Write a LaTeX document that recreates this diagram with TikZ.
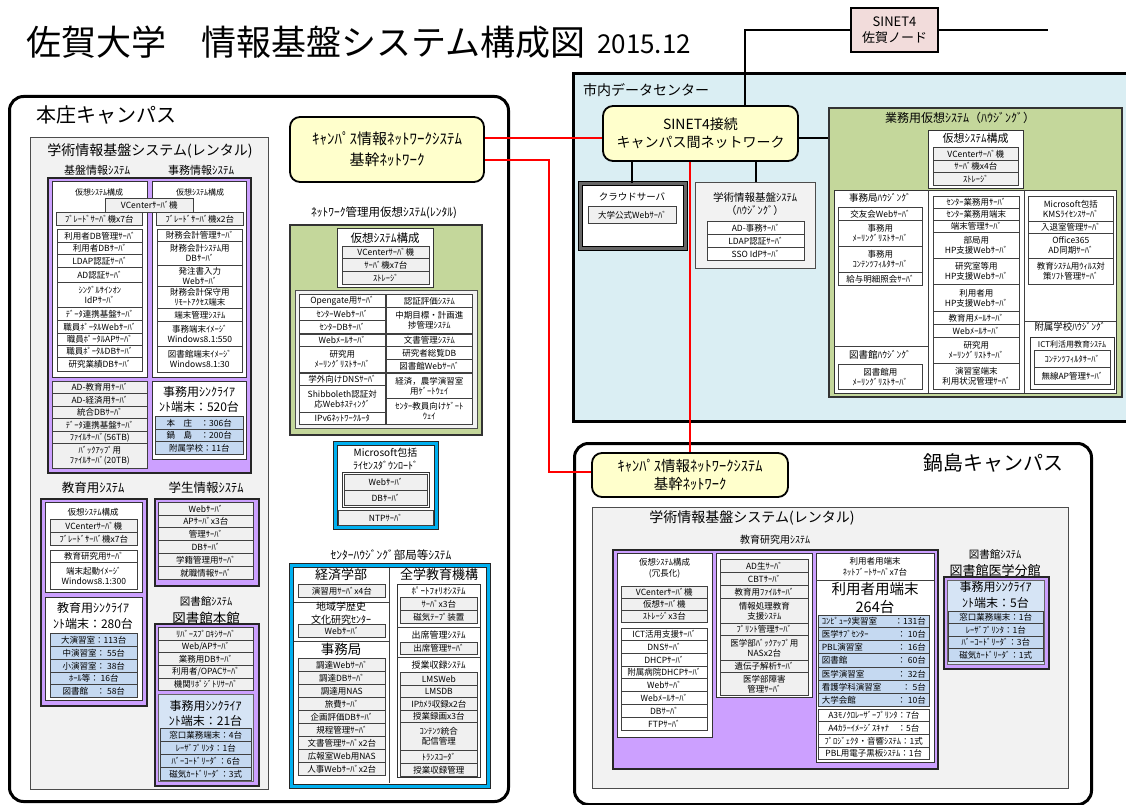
\documentclass[tikz,border=0pt]{standalone}
\usepackage{fontspec}
\setmainfont{Noto Sans CJK JP}
\usetikzlibrary{calc}
\definecolor{cPurp}{RGB}{204,160,255}
\definecolor{cLb}{RGB}{197,217,241}
\definecolor{cLbb}{RGB}{214,228,245}
\definecolor{cGrn}{RGB}{196,215,155}
\definecolor{cDc}{RGB}{218,238,243}
\definecolor{cYel}{RGB}{255,255,204}
\definecolor{cPnk}{RGB}{242,220,219}
\definecolor{cPg}{RGB}{242,242,242}
\definecolor{cCy}{RGB}{0,176,240}
\definecolor{cGf}{RGB}{240,240,240}
\newcommand\fsz[2]{\fontsize{#1}{#2}\selectfont}
\newcommand\fsl[1]{\fontsize{#1}{#1}\selectfont\baselineskip=1.3em\relax}
\newcounter{nn}
\newcommand\B[6][ib]{\stepcounter{nn}\node[#1,minimum width={#4pt-#2pt},minimum height={#5pt-#3pt},anchor=north west] (n\thenn) at (#2,#3) {#6};}
\newcommand\NB[7][ib]{\node[#1,minimum width={#5pt-#3pt},minimum height={#6pt-#4pt},anchor=north west] (#2) at (#3,#4) {#7};}
\newcommand\Stk[4][ib]{\foreach \ya/\yb/\tx in {#4}{\B[#1]{#2}{\ya}{#3}{\yb}{\tx}}}
\newcommand\LRx[2]{\makebox[104pt]{#1\hfill#2}}
\newcommand\Lb[4][]{\stepcounter{nn}\node[lbl,font=\fsl{#2},#1] (t\thenn) at #3 {#4};}
\tikzset{
 ib/.style={draw=black!75,line width=0.6pt,fill=white,inner sep=0pt,align=center,font=\fsz{8.5}{10}},
 gb/.style={ib,fill=cGf},
 bb/.style={ib,fill=cLb},
 wb/.style={draw=black!80,line width=0.8pt,fill=white,inner sep=0pt},
 purpb/.style={draw=black!85,line width=1.6pt,fill=cPurp,inner sep=0pt},
 lbbox/.style={draw=black!60,line width=0.6pt,fill=cLbb,inner sep=0pt},
 campus/.style={draw=black,line width=3pt,rounded corners=14pt,fill=white,inner sep=0pt},
 grayp/.style={draw=black!70,line width=1.2pt,fill=cPg,inner sep=0pt},
 grnb/.style={draw=black!80,line width=2.2pt,fill=cGrn,inner sep=0pt},
 cyanb/.style={draw=black!85,line width=0.8pt,double=cCy,double distance=3pt,fill=white,inner sep=0pt},
 cloudb/.style={draw=black,line width=0.8pt,double=black!60,double distance=3pt,fill=white,inner sep=0pt},
 dcbox/.style={draw=black,line width=3pt,fill=cDc,inner sep=0pt},
 ynode/.style={draw=black,line width=1.8pt,rounded corners=10pt,fill=cYel,inner sep=0pt,align=center},
 lbl/.style={inner sep=0pt,align=center},
 bl/.style={draw=black,line width=2pt},
 rd/.style={draw=red,line width=2pt},
 thinl/.style={draw=black!75,line width=0.8pt},
}
\begin{document}
\begin{tikzpicture}[x=1pt,y=-1pt]
\path[use as bounding box] (0,0) rectangle (1126,805);
\clip (0,0) rectangle (1126,805);
% ---------- title ----------
\node[lbl,anchor=west,font=\fsz{35}{40}] (title) at (26,42) {佐賀大学　情報基盤システム構成図};
\node[lbl,anchor=west,font=\fsz{26}{30}] (date) at (597,44) {2015.12};
\node[draw=black,line width=2.5pt,fill=cPnk,minimum width=87pt,minimum height=44pt,align=center,inner sep=0pt,font=\fsz{13}{16}] (sinet) at (894.5,30) {SINET4\\佐賀ノード};
% ---------- data center ----------
\NB[dcbox]{dc}{572}{72}{1140}{420}{}
\Lb[anchor=west]{14}{(583,90)}{市内データセンター}
\node[ynode,minimum width=195pt,minimum height=55pt,font=\fsz{14}{18}] (dcnet) at (700.5,133.5) {SINET4接続\\キャンパス間ネットワーク};
\NB[cloudb]{cloud}{580}{183}{685}{248}{}
\Lb{9.5}{(632,197)}{クラウドサーバ}
\B[gb]{588}{206}{676}{223}{大学公式Webｻｰﾊﾞ}
\NB[grayp]{hous}{695}{182}{815}{268}{}
\Lb{10.5}{(755,204)}{学術情報基盤ｼｽﾃﾑ\\（ﾊｳｼﾞﾝｸﾞ）}
\Stk{707}{804}{221/234/{AD-事務ｻｰﾊﾞ},234/247/{LDAP認証ｻｰﾊﾞ},247/260/{SSO IdPｻｰﾊﾞ}}
\NB[grnb]{gyomu}{828}{107}{1121}{396}{}
\Lb{12}{(960,118)}{業務用仮想ｼｽﾃﾑ（ﾊｳｼﾞﾝｸﾞ）}
\B[wb]{928}{130}{1023}{188}{}
\Lb{11}{(975.5,138)}{仮想ｼｽﾃﾑ構成}
\Stk[gb]{933}{1018}{147/160/{VCenterｻｰﾊﾞ機},160/172/{ｻｰﾊﾞ機x4台},172/185/{ｽﾄﾚｰｼﾞ}}
\B[wb]{834}{190}{1116}{393}{}
\draw[thinl] (928,190) -- (928,393) (1024,190) -- (1024,393) (834,346) -- (928,346) (1024,321) -- (1116,321);
\Lb{9.5}{(880,198)}{事務局ﾊｳｼﾞﾝｸﾞ}
\Stk{838}{922}{207/220/{交友会Webｻｰﾊﾞ},220/246/{事務用\\ﾒｰﾘﾝｸﾞﾘｽﾄｻｰﾊﾞ},246/272/{事務用\\ｺﾝﾃﾝﾂﾌｨﾙﾀｻｰﾊﾞ},272/285/{給与明細照会ｻｰﾊﾞ}}
\Lb{9.5}{(880,355)}{図書館ﾊｳｼﾞﾝｸﾞ}
\B{838}{364}{922}{389}{図書館用\\ﾒｰﾘﾝｸﾞﾘｽﾄｻｰﾊﾞ}
\Stk{933}{1019}{196/208/{ｾﾝﾀｰ業務用ｻｰﾊﾞ},208/220/{ｾﾝﾀｰ業務用端末},220/232/{端末管理ｻｰﾊﾞ},232/258/{部局用\\HP支援Webｻｰﾊﾞ},258/284/{研究室等用\\HP支援Webｻｰﾊﾞ},284/311/{利用者用\\HP支援Webｻｰﾊﾞ},311/324/{教育用ﾒｰﾙｻｰﾊﾞ},324/337/{Webﾒｰﾙｻｰﾊﾞ},337/363/{研究用\\ﾒｰﾘﾝｸﾞﾘｽﾄｻｰﾊﾞ},363/389/{演習室端末\\利用状況管理ｻｰﾊﾞ}}
\Stk{1028}{1113}{196/221/{Microsoft包括\\KMSﾗｲｾﾝｽｻｰﾊﾞ},221/233/{入退室管理ｻｰﾊﾞ},233/258/{Office365\\AD同期ｻｰﾊﾞ},258/284/{教育ｼｽﾃﾑ用ｳｨﾙｽ対\\策ｿﾌﾄ管理ｻｰﾊﾞ}}
\Lb{9.5}{(1070,327)}{附属学校ﾊｳｼﾞﾝｸﾞ}
\B[wb]{1030}{337}{1114}{389}{}
\Lb{8}{(1072,344)}{ICT利活用教育ｼｽﾃﾑ}
\Stk{1034}{1110}{350/367/{ｺﾝﾃﾝﾂﾌｨﾙﾀｻｰﾊﾞ},367/384/{無線AP管理ｻｰﾊﾞ}}
% ---------- Honjo campus ----------
\NB[campus]{honjo}{8}{95}{507}{800}{}
\Lb[anchor=west]{20}{(36,115)}{本庄キャンパス}
\B[grayp]{30}{137}{268}{789}{}
\Lb{14}{(150,151)}{学術情報基盤システム(レンタル)}
\Lb{11}{(97,170)}{基盤情報ｼｽﾃﾑ}
\Lb{11}{(201,170)}{事務情報ｼｽﾃﾑ}
\B[purpb]{47}{177}{250}{472}{}
\B[wb]{52}{181}{147}{377}{}
\B[wb]{152}{181}{246}{377}{}
\Lb{8}{(99,192)}{仮想ｼｽﾃﾑ構成}
\Lb{8}{(200,192)}{仮想ｼｽﾃﾑ構成}
\B[gb]{105}{198}{193}{212}{VCenterｻｰﾊﾞ機}
\B[gb]{56}{212}{142}{225}{ﾌﾞﾚｰﾄﾞｻｰﾊﾞ機x7台}
\B[gb]{156}{212}{243}{225}{ﾌﾞﾚｰﾄﾞｻｰﾊﾞ機x2台}
\Stk{57}{142}{229/242/{利用者DB管理ｻｰﾊﾞ},242/254/{利用者DBｻｰﾊﾞ},254/267/{LDAP認証ｻｰﾊﾞ},267/282/{AD認証ｻｰﾊﾞ},282/307/{ｼﾝｸﾞﾙｻｲﾝｵﾝ\\IdPｻｰﾊﾞ},307/320/{ﾃﾞｰﾀ連携基盤ｻｰﾊﾞ},320/333/{職員ﾎﾟｰﾀﾙWebｻｰﾊﾞ},333/345/{職員ﾎﾟｰﾀﾙAPｻｰﾊﾞ},345/357/{職員ﾎﾟｰﾀﾙDBｻｰﾊﾞ},357/371/{研究業績DBｻｰﾊﾞ}}
\Stk{157}{242}{229/241/{財務会計管理ｻｰﾊﾞ},241/265/{財務会計ｼｽﾃﾑ用\\DBｻｰﾊﾞ},265/286/{発注書入力\\Webｻｰﾊﾞ},286/308/{財務会計保守用\\ﾘﾓｰﾄｱｸｾｽ端末},308/321/{端末管理ｼｽﾃﾑ},321/346/{事務端末ｲﾒｰｼﾞ\\Windows8.1:550},346/372/{図書館端末ｲﾒｰｼﾞ\\Windows8.1:30}}
\Stk[gb]{52}{147}{381/393/{AD-教育用ｻｰﾊﾞ},393/406/{AD-経済用ｻｰﾊﾞ},406/418/{統合DBｻｰﾊﾞ},418/431/{ﾃﾞｰﾀ連携基盤ｻｰﾊﾞ},431/443/{ﾌｧｲﾙｻｰﾊﾞ(56TB)},443/468/{ﾊﾞｯｸｱｯﾌﾟ用\\ﾌｧｲﾙｻｰﾊﾞ(20TB)}}
\B[wb]{152}{381}{246}{459}{}
\Lb{12}{(199,399.5)}{事務用ｼﾝｸﾗｲｱ\\ﾝﾄ端末：520台}
\Stk[bb]{155}{243}{416/429/{本　庄　：306台},429/441/{鍋　島　：200台},441/454/{附属学校：11台}}
\Lb{12.5}{(93,488)}{教育用ｼｽﾃﾑ}
\Lb{12.5}{(206,488)}{学生情報ｼｽﾃﾑ}
\B[purpb]{40}{498}{146}{705}{}
\B[wb]{45}{502}{142}{592}{}
\Lb{8.5}{(93,512)}{仮想ｼｽﾃﾑ構成}
\Stk[gb]{50}{137}{519/532/{VCenterｻｰﾊﾞ機},532/545/{ﾌﾞﾚｰﾄﾞｻｰﾊﾞ機x7台}}
\Stk{50}{137}{550/562/{教育研究用ｻｰﾊﾞ},562/589/{端末起動ｲﾒｰｼﾞ\\Windows8.1:300}}
\B[wb]{45}{597}{142}{700}{}
\Lb{12}{(93,616)}{教育用ｼﾝｸﾗｲｱ\\ﾝﾄ端末：280台}
\Stk[bb]{50}{137}{633/646/{大演習室：113台},646/659/{中演習室： 55台},659/672/{小演習室： 38台},672/684/{ﾎｰﾙ等： 16台},684/697/{図書館　： 58台}}
\B[purpb]{154}{498}{258}{585}{}
\Stk[gb]{158}{253}{502/515/{Webｻｰﾊﾞ},515/527/{APｻｰﾊﾞx3台},527/540/{管理ｻｰﾊﾞ},540/553/{DBｻｰﾊﾞ},553/566/{学籍管理用ｻｰﾊﾞ},566/579/{就職情報ｻｰﾊﾞ}}
\Lb{10.5}{(206,602)}{図書館ｼｽﾃﾑ}
\Lb{13.5}{(206,618)}{図書館本館}
\B[purpb]{154}{623}{258}{785}{}
\Stk[gb]{158}{253}{627/640/{ﾘﾊﾞｰｽﾌﾟﾛｷｼｻｰﾊﾞ},640/652/{Web/APｻｰﾊﾞ},652/665/{業務用DBｻｰﾊﾞ},665/678/{利用者/OPACｻｰﾊﾞ},678/690/{機関ﾘﾎﾟｼﾞﾄﾘｻｰﾊﾞ}}
\B[lbbox]{158}{694}{253}{781}{}
\Lb{12}{(205.5,713.5)}{事務用ｼﾝｸﾗｲｱ\\ﾝﾄ端末：21台}
\Stk[bb]{160}{251}{728/741/{窓口業務端末：4台},741/754/{ﾚｰｻﾞﾌﾟﾘﾝﾀ：1台},754/767/{ﾊﾞｰｺｰﾄﾞﾘｰﾀﾞ：6台},767/780/{磁気ｶｰﾄﾞﾘｰﾀﾞ：3式}}
% middle column of Honjo
\node[ynode,minimum width=194pt,minimum height=65pt,font=\fsz{15}{21}] (hnet) at (387,149.5) {ｷｬﾝﾊﾟｽ情報ﾈｯﾄﾜｰｸｼｽﾃﾑ\\基幹ﾈｯﾄﾜｰｸ};
\Lb{11.5}{(384,213)}{ﾈｯﾄﾜｰｸ管理用仮想ｼｽﾃﾑ(ﾚﾝﾀﾙ)}
\B[grnb]{289}{224}{481}{434}{}
\B[wb]{337}{228}{433}{287}{}
\Lb{11.5}{(385,238)}{仮想ｼｽﾃﾑ構成}
\Stk[gb]{342}{429}{246/258/{VCenterｻｰﾊﾞ機},258/271/{ｻｰﾊﾞ機x7台},271/284/{ｽﾄﾚｰｼﾞ}}
\B[grayp]{295}{290}{477}{428}{}
\Stk{299}{385}{294/307/{Opengate用ｻｰﾊﾞ},307/320/{ｾﾝﾀｰWebｻｰﾊﾞ},320/333/{ｾﾝﾀｰDBｻｰﾊﾞ},334/346/{Webﾒｰﾙｻｰﾊﾞ},346/372/{研究用\\ﾒｰﾘﾝｸﾞﾘｽﾄｻｰﾊﾞ},373/385/{学外向けDNSｻｰﾊﾞ},385/412/{Shibboleth認証対\\応Webﾎｽﾃｨﾝｸﾞ},412/424/{IPv6ﾈｯﾄﾜｰｸﾙｰﾀ}}
\Stk{386}{472}{294/307/{認証評価ｼｽﾃﾑ},307/333/{中期目標・計画進\\捗管理ｼｽﾃﾑ},334/346/{文書管理ｼｽﾃﾑ},346/359/{研究者総覧DB},359/372/{図書館Webｻｰﾊﾞ},373/398/{経済，農学演習室\\用ｹﾞｰﾄｳｪｲ},398/424/{ｾﾝﾀｰ教員向けｹﾞｰﾄ\\ｳｪｲ}}
\B[cyanb]{335}{443}{436}{527}{}
\Lb{10}{(385.5,459)}{Microsoft包括\\ﾗｲｾﾝｽﾀﾞｳﾝﾛｰﾄﾞ}
\B[wb]{342}{472}{429}{507}{}
\Stk[gb]{344}{427}{474/490/{Webｻｰﾊﾞ},490/505/{DBｻｰﾊﾞ}}
\B[gb]{338}{510}{433}{525}{NTPｻｰﾊﾞ}
\Lb{11.5}{(391,555)}{ｾﾝﾀｰﾊｳｼﾞﾝｸﾞ部局等ｼｽﾃﾑ}
\B[cyanb]{291}{565}{488}{786}{}
\draw[thinl] (389,568) -- (389,783) (294,602) -- (389,602) (294,641) -- (389,641);
\Lb{13}{(341,575)}{経済学部}
\B[gb]{298}{584}{385}{597}{演習用ｻｰﾊﾞx4台}
\Lb{10}{(341,613.5)}{地域学歴史\\文化研究ｾﾝﾀｰ}
\B[gb]{298}{624}{385}{637}{Webｻｰﾊﾞ}
\Lb{13.5}{(341,649)}{事務局}
\Stk[gb]{298}{385}{658/671/{調達Webｻｰﾊﾞ},671/684/{調達DBｻｰﾊﾞ},684/697/{調達用NAS},697/710/{旅費ｻｰﾊﾞ},710/723/{企画評価DBｻｰﾊﾞ},723/736/{規程管理ｻｰﾊﾞ},736/749/{文書管理ｻｰﾊﾞx2台},749/762/{広報室Web用NAS},762/775/{人事Webｻｰﾊﾞx2台}}
\Lb{13}{(439,575)}{全学教育機構}
\B[wb]{397}{584}{480}{777}{}
\draw[thinl] (397,627) -- (480,627) (397,657) -- (480,657);
\Lb{9}{(438.5,591)}{ﾎﾟｰﾄﾌｫﾘｵｼｽﾃﾑ}
\Stk[gb]{400}{477}{597/610/{ｻｰﾊﾞx3台},610/623/{磁気ﾃｰﾌﾟ装置}}
\Lb{9}{(438.5,635)}{出席管理ｼｽﾃﾑ}
\B[gb]{400}{642}{477}{654}{出席管理ｻｰﾊﾞ}
\Lb{9}{(438.5,665)}{授業収録ｼｽﾃﾑ}
\Stk[gb]{400}{477}{672/685/{LMSWeb},685/697/{LMSDB},697/710/{IPｶﾒﾗ収録x2台},710/722/{授業録画x3台},722/750/{ｺﾝﾃﾝﾂ統合\\配信管理},750/763/{ﾄﾗﾝｽｺｰﾀﾞ},763/776/{授業収録管理}}
% ---------- Nabeshima campus ----------
\NB[campus]{nabe}{573}{442}{1090}{803}{}
\Lb{20}{(993,463)}{鍋島キャンパス}
\node[ynode,minimum width=196pt,minimum height=44pt,font=\fsz{14.5}{18}] (nnet) at (690,475) {ｷｬﾝﾊﾟｽ情報ﾈｯﾄﾜｰｸｼｽﾃﾑ\\基幹ﾈｯﾄﾜｰｸ};
\B[grayp]{592}{507}{1068}{788}{}
\Lb{14}{(752,518)}{学術情報基盤システム(レンタル)}
\Lb{10}{(775,540)}{教育研究用ｼｽﾃﾑ}
\B[purpb]{612}{549}{937}{768}{}
\B[wb]{617}{553}{712}{737}{}
\Lb{8.5}{(664.5,568.5)}{仮想ｼｽﾃﾑ構成\\(冗長化)}
\Stk[gb]{621}{707}{586/598/{VCenterｻｰﾊﾞ機},598/610/{仮想ｻｰﾊﾞ機},610/622/{ｽﾄﾚｰｼﾞx3台}}
\Stk{621}{707}{628/640/{ICT活用支援ｻｰﾊﾞ},640/653/{DNSｻｰﾊﾞ},653/666/{DHCPｻｰﾊﾞ},666/678/{附属病院DHCPｻｰﾊﾞ},678/691/{Webｻｰﾊﾞ},691/704/{Webﾒｰﾙｻｰﾊﾞ},704/717/{DBｻｰﾊﾞ},717/730/{FTPｻｰﾊﾞ}}
\B[wb]{716}{553}{812}{697}{}
\Stk[gb]{720}{808}{559/572/{AD生ｻｰﾊﾞ},572/585/{CBTｻｰﾊﾞ},585/598/{教育用ﾌｧｲﾙｻｰﾊﾞ},598/623/{情報処理教育\\支援ｼｽﾃﾑ},623/635/{ﾌﾟﾘﾝﾄ管理ｻｰﾊﾞ},635/660/{医学部ﾊﾞｯｸｱｯﾌﾟ用\\NASx2台},660/672/{遺伝子解析ｻｰﾊﾞ},672/695/{医学部障害\\管理ｻｰﾊﾞ}}
\B[wb]{816}{553}{934}{762}{}
\draw[thinl] (816,580) -- (934,580);
\Lb{8.5}{(875,567)}{利用者用端末\\ﾈｯﾄﾌﾞｰﾄｻｰﾊﾞx7台}
\Lb{14.5}{(875,598)}{利用者用端末\\264台}
\Stk[bb]{818}{929}{615/627/{\LRx{ｺﾝﾋﾟｭｰﾀ実習室}{：131台}},627/640/{\LRx{医学ｻﾌﾞｾﾝﾀｰ}{： 10台}},640/653/{\LRx{PBL演習室}{： 16台}},653/667/{\LRx{図書館}{： 60台}},667/680/{\LRx{医学演習室}{： 32台}},680/693/{\LRx{看護学科演習室}{：  5台}},693/706/{\LRx{大学会館}{： 10台}}}
\Stk{818}{929}{709/721/{A3ﾓﾉｸﾛﾚｰｻﾞｰﾌﾟﾘﾝﾀ：7台},721/734/{A4ｶﾗｰｲﾒｰｼﾞｽｷｬﾅ　：5台},734/747/{ﾌﾟﾛｼﾞｪｸﾀ・音響ｼｽﾃﾑ：1式},747/759/{PBL用電子黒板ｼｽﾃﾑ：1台}}
\Lb{10.5}{(995,555)}{図書館ｼｽﾃﾑ}
\Lb{13}{(995,571)}{図書館医学分館}
\B[purpb]{943}{576}{1048}{668}{}
\B[lbbox]{947}{580}{1044}{664}{}
\Lb{12}{(995.5,595)}{事務用ｼﾝｸﾗｲｱ\\ﾝﾄ端末：5台}
\Stk[bb]{948}{1043}{611/623/{窓口業務端末：1台},623/636/{ﾚｰｻﾞﾌﾟﾘﾝﾀ：1台},636/648/{ﾊﾞｰｺｰﾄﾞﾘｰﾀﾞ：3台},648/661/{磁気ｶｰﾄﾞﾘｰﾀﾞ：1式}}
% ---------- connectors ----------
\coordinate (j1) at (745,30);
\coordinate (e1) at (1048,30);
\draw[bl] (sinet.west) -- (j1) -- (j1 |- dcnet.north);
\draw[bl] (sinet.east) -- (e1);
\draw[bl] (dcnet.south -| 632,0) -- (cloud.north -| 632,0);
\draw[bl] (dcnet.south -| 756,0) -- (hous.north -| 756,0);
\draw[bl] (dcnet.east |- 0,138) -- (gyomu.west |- 0,138);
\draw[rd] (hnet.east |- 0,138) -- (dcnet.west |- 0,138);
\draw[rd] (hnet.east |- 0,160) -- (549,160) -- (549,472) -- (nnet.west |- 0,472);
\draw[rd] (dcnet.south -| 690,0) -- (nnet.north -| 690,0);
\end{tikzpicture}
\end{document}
